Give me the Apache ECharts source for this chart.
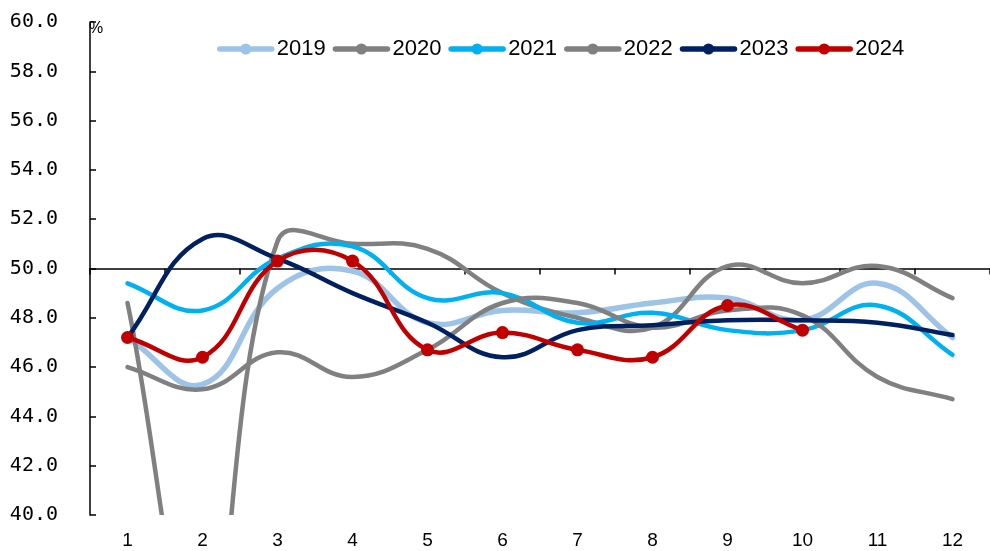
<!DOCTYPE html>
<html>
<head>
<meta charset="utf-8">
<script src="https://cdn.jsdelivr.net/npm/echarts@6/dist/echarts.min.js"></script>
<style>
  html, body { margin: 0; padding: 0; background: #fff; }
  #chart { width: 990px; height: 551px; }
</style>
</head>
<body>
<div id="chart"></div>
<script>
// Small-enterprise PMI by month, one line per year (%)
const months = ['1', '2', '3', '4', '5', '6', '7', '8', '9', '10', '11', '12'];
const yearNames = ['2019', '2020', '2021', '2022', '2023', '2024'];
const v2019 = [47.2, 45.3, 49.2, 49.9, 47.8, 48.3, 48.2, 48.6, 48.8, 47.9, 49.4, 47.2];
const v2020 = [48.6, 34.1, 51.1, 51.0, 50.8, 49.0, 48.0, 47.6, 50.1, 49.4, 50.1, 48.8];
const v2021 = [49.4, 48.3, 50.4, 50.9, 48.8, 49.0, 47.8, 48.2, 47.5, 47.5, 48.5, 46.5];
const v2022 = [46.0, 45.1, 46.6, 45.6, 46.7, 48.6, 48.6, 47.6, 48.3, 48.1, 45.6, 44.7];
const v2023 = [47.2, 51.2, 50.4, 49.0, 47.8, 46.4, 47.5, 47.7, 47.9, 47.9, 47.8, 47.3];
const v2024 = [47.2, 46.4, 50.3, 50.3, 46.7, 47.4, 46.7, 46.4, 48.5, 47.5];
const yMin = 40, yMax = 60, yStep = 2, threshold = 50;

const colors = ['#9DC3E6', '#808080', '#00B0F0', '#808080', '#002060', '#C00000'];
const values = [v2019, v2020, v2021, v2022, v2023, v2024];
const widths = [5.5, 4.5, 4.5, 4.5, 4.5, 4.5];
const SMOOTH = 0.42;

// Cubic Bezier through the points; each point's tangent follows its neighbours,
// split between the two sides in proportion to the adjoining segment lengths.
// Control points are not clamped, so the curve may swing past a peak.
function smoothPath(pts, s) {
  const n = pts.length;
  const cps = pts.map((p, i) => {
    const prev = pts[Math.max(i - 1, 0)];
    const next = pts[Math.min(i + 1, n - 1)];
    const vx = next[0] - prev[0], vy = next[1] - prev[1];
    const dp = Math.hypot(p[0] - prev[0], p[1] - prev[1]);
    const dn = Math.hypot(next[0] - p[0], next[1] - p[1]);
    const tot = dp + dn || 1;
    return {
      back: [p[0] - vx * s * dp / tot, p[1] - vy * s * dp / tot],
      fwd: [p[0] + vx * s * dn / tot, p[1] + vy * s * dn / tot]
    };
  });
  let d = 'M' + pts[0][0] + ',' + pts[0][1];
  for (let i = 0; i < n - 1; i++) {
    const a = cps[i].fwd, b = cps[i + 1].back, c = pts[i + 1];
    d += ' C' + a[0] + ',' + a[1] + ' ' + b[0] + ',' + b[1] + ' ' + c[0] + ',' + c[1];
  }
  return d;
}

const chart = echarts.init(document.getElementById('chart'), null, { renderer: 'canvas' });

const series = [];

// Line series: carry the legend entries and the 2024 point markers
yearNames.forEach((name, i) => {
  const withMarks = name === '2024';
  series.push({
    name,
    type: 'line',
    xAxisIndex: 0,
    yAxisIndex: 0,
    data: values[i],
    smooth: false,
    symbol: withMarks ? 'circle' : 'none',
    symbolSize: 13,
    showSymbol: withMarks,
    lineStyle: { color: colors[i], width: widths[i], opacity: 0 },
    itemStyle: { color: colors[i] },
    emphasis: { disabled: true },
    silent: true,
    z: 20
  });
});

// Custom series: the smoothed curves, clipped to the plot area
yearNames.forEach((name, i) => {
  const vals = values[i];
  series.push({
    id: 'curve-' + name,
    type: 'custom',
    xAxisIndex: 0,
    yAxisIndex: 0,
    clip: true,
    silent: true,
    data: vals.map((v, k) => [k, v]),
    encode: { x: 0, y: 1 },
    z: 2 + i,
    renderItem: (params, api) => {
      if (params.dataIndex !== 0) return null;
      const pts = vals.map((v, k) => api.coord([k, v]));
      return {
        type: 'path',
        shape: { pathData: smoothPath(pts, SMOOTH) },
        style: {
          fill: 'none',
          stroke: colors[i],
          lineWidth: widths[i],
          lineCap: 'round',
          lineJoin: 'round'
        }
      };
    }
  });
});

// empty series that carries the reference axis at the 50 line
series.push({
  type: 'line', xAxisIndex: 1, yAxisIndex: 1, data: [], silent: true
});

chart.setOption({
  animation: false,
  backgroundColor: '#ffffff',
  textStyle: { fontFamily: 'Liberation Sans, Arial, sans-serif' },
  legend: {
    data: yearNames.map((name, i) => ({
      name,
      lineStyle: { color: colors[i], width: 5.5, opacity: 1, cap: 'round' },
      itemStyle: { color: colors[i], opacity: 1 }
    })),
    left: 212,
    top: 33,
    itemWidth: 52,
    itemHeight: 14,
    itemGap: 7,
    textStyle: { fontSize: 22, color: '#000', fontFamily: 'Liberation Sans, Arial, sans-serif' }
  },
  grid: [
    { left: 90, top: 22, width: 908, height: 493, containLabel: false },
    { left: 90, top: 22, width: 908, height: 246.5, containLabel: false }
  ],
  xAxis: [
    {
      type: 'category',
      gridIndex: 0,
      data: months,
      boundaryGap: true,
      axisLine: { show: false },
      axisTick: { show: false },
      axisLabel: { fontSize: 19, color: '#000', margin: 16, fontFamily: 'Liberation Sans, Arial, sans-serif' },
      splitLine: { show: false }
    },
    {
      type: 'category',
      gridIndex: 1,
      data: months,
      boundaryGap: true,
      position: 'bottom',
      axisLine: { show: true, lineStyle: { color: '#000', width: 1.5 } },
      axisTick: { show: true, inside: false, length: 6, lineStyle: { color: '#000', width: 1.5 } },
      axisLabel: { show: false },
      splitLine: { show: false }
    }
  ],
  yAxis: [
    {
      type: 'value',
      gridIndex: 0,
      min: yMin,
      max: yMax,
      interval: yStep,
      axisLine: { show: true, lineStyle: { color: '#000', width: 1.5 } },
      axisTick: { show: true, inside: true, length: 6, lineStyle: { color: '#000', width: 1.5 } },
      axisLabel: {
        fontSize: 20,
        color: '#000',
        margin: 32,
        padding: [3, 0, 0, 0],
        fontFamily: 'DejaVu Sans Mono, Liberation Mono, monospace',
        formatter: v => v.toFixed(1)
      },
      splitLine: { show: false }
    },
    {
      type: 'value',
      gridIndex: 1,
      min: threshold,
      max: yMax,
      show: false
    }
  ],
  graphic: [
    {
      type: 'text',
      left: 89,
      top: 21,
      style: { text: '%', fontSize: 16, fill: '#000', fontFamily: 'Liberation Sans, Arial, sans-serif' }
    }
  ],
  series
});
</script>
</body>
</html>
